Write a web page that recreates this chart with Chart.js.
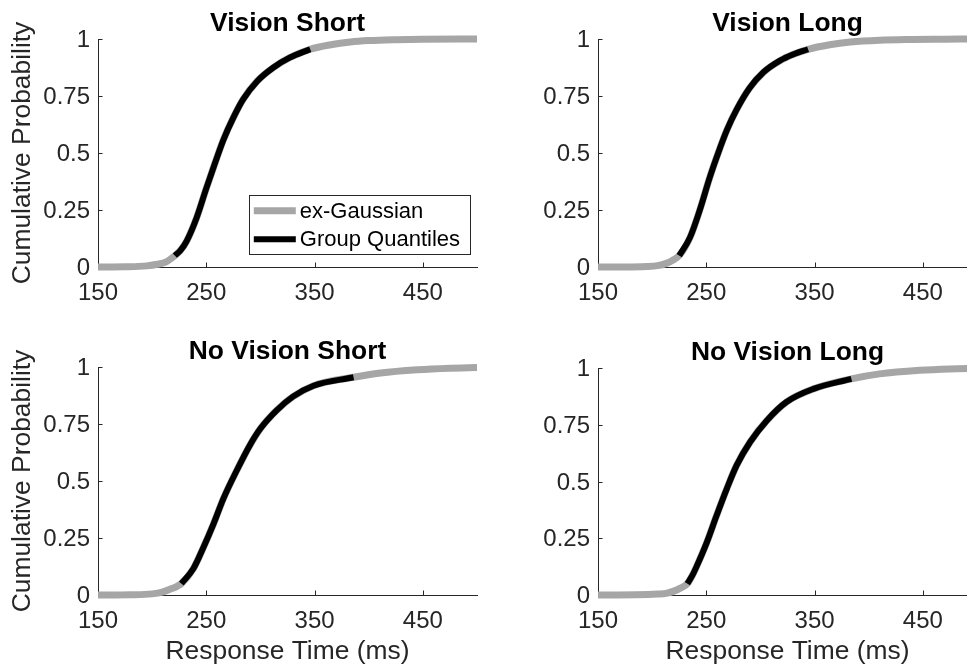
<!DOCTYPE html>
<html>
<head>
<meta charset="utf-8">
<script src="https://cdn.jsdelivr.net/npm/chart.js@4.4.1/dist/chart.umd.min.js"></script>
<style>
  html, body { margin: 0; padding: 0; background: #ffffff; overflow: hidden; width: 967px; height: 668px; }
  canvas { position: absolute; }
</style>
</head>
<body>
<canvas id="c0"></canvas>
<canvas id="c1"></canvas>
<canvas id="c2"></canvas>
<canvas id="c3"></canvas>
<script>
// ---- data -------------------------------------------------------------
const panelTitles = ['Vision Short', 'Vision Long', 'No Vision Short', 'No Vision Long'];
const seriesNames = ['ex-Gaussian', 'Group Quantiles'];
const xTickValues = [150, 250, 350, 450];
const yTickValues = [0, 0.25, 0.5, 0.75, 1];
const yTickLabels = ['0', '0.25', '0.5', '0.75', '1'];
const xAxisLabel = 'Response Time (ms)';
const yAxisLabel = 'Cumulative Probability';

// Vision Short
const vsFitRT = [150, 175, 195, 205, 213, 221, 226, 232, 241, 250, 258, 266, 275, 284, 297, 312, 327, 346, 365, 383, 400, 425, 450, 500];
const vsFitP  = [0, 0.001, 0.005, 0.012, 0.023, 0.05, 0.072, 0.115, 0.215, 0.345, 0.455, 0.56, 0.655, 0.735, 0.815, 0.875, 0.918, 0.955, 0.975, 0.987, 0.993, 0.997, 0.999, 1];
const vsQuantRT = [221, 226, 232, 241, 250, 258, 266, 275, 284, 297, 312, 327, 346];
const vsQuantP  = [0.05, 0.072, 0.115, 0.215, 0.345, 0.455, 0.56, 0.655, 0.735, 0.815, 0.875, 0.918, 0.955];

// Vision Long
const vlFitRT = [150, 175, 195, 205, 213, 219, 225, 235, 244, 253, 261, 269, 278, 290, 303, 318, 330, 344, 364, 383, 410, 440, 470, 500];
const vlFitP  = [0, 0, 0.002, 0.006, 0.016, 0.03, 0.05, 0.13, 0.25, 0.39, 0.5, 0.6, 0.69, 0.785, 0.855, 0.905, 0.932, 0.955, 0.975, 0.987, 0.995, 0.998, 0.999, 1];
const vlQuantRT = [225, 235, 244, 253, 261, 269, 278, 290, 303, 318, 330, 344];
const vlQuantP  = [0.05, 0.13, 0.25, 0.39, 0.5, 0.6, 0.69, 0.785, 0.855, 0.905, 0.932, 0.955];

// No Vision Short
const nvsFitRT = [150, 180, 200, 210, 218, 223, 227, 238, 247, 256.5, 266, 278, 290, 300, 315, 330, 349, 386, 411, 445, 475, 500];
const nvsFitP  = [0, 0.001, 0.005, 0.014, 0.028, 0.038, 0.05, 0.115, 0.205, 0.31, 0.425, 0.545, 0.655, 0.73, 0.81, 0.87, 0.918, 0.955, 0.974, 0.988, 0.995, 0.998];
const nvsQuantRT = [227, 238, 247, 256.5, 266, 278, 290, 300, 315, 330, 349, 386];
const nvsQuantP  = [0.05, 0.115, 0.205, 0.31, 0.425, 0.545, 0.655, 0.73, 0.81, 0.87, 0.918, 0.955];

// No Vision Long
const nvlFitRT = [150, 185, 205, 213, 220, 226, 232.5, 237, 241, 250.5, 259.5, 269, 278, 290.5, 306, 324, 349, 384, 410, 447, 475, 500];
const nvlFitP  = [0, 0.001, 0.004, 0.007, 0.017, 0.03, 0.05, 0.085, 0.125, 0.232, 0.35, 0.469, 0.571, 0.674, 0.769, 0.85, 0.908, 0.952, 0.974, 0.99, 0.996, 0.998];
const nvlQuantRT = [232.5, 237, 241, 250.5, 259.5, 269, 278, 290.5, 306, 324, 349, 384];
const nvlQuantP  = [0.05, 0.085, 0.125, 0.232, 0.35, 0.469, 0.571, 0.674, 0.769, 0.85, 0.908, 0.952];

// ---- styling ----------------------------------------------------------
const FONT = "'Liberation Sans', Arial, Helvetica, sans-serif";
const AXIS_COLOR = '#262626';
const FIT_COLOR = '#a6a6a6';
const QUANT_COLOR = '#000000';

Chart.defaults.font.family = FONT;
Chart.defaults.color = AXIS_COLOR;

// canvas placement and plot-box geometry for the 2x2 grid
const panels = [
  { id: 'c0', left: 0,   top: 0,   w: 490, h: 318, axisW: 98,  axisH: 51, padTop: 39, padRight: 13,
    fitRT: vsFitRT,  fitP: vsFitP,  qRT: vsQuantRT,  qP: vsQuantP,  yTitle: true,  xTitle: false, legend: true },
  { id: 'c1', left: 490, top: 0,   w: 510, h: 318, axisW: 108, axisH: 51, padTop: 39, padRight: 23,
    fitRT: vlFitRT,  fitP: vlFitP,  qRT: vlQuantRT,  qP: vlQuantP,  yTitle: false, xTitle: false, legend: false },
  { id: 'c2', left: 0,   top: 318, w: 490, h: 350, axisW: 98,  axisH: 73, padTop: 49, padRight: 13,
    fitRT: nvsFitRT, fitP: nvsFitP, qRT: nvsQuantRT, qP: nvsQuantP, yTitle: true,  xTitle: true,  legend: false },
  { id: 'c3', left: 490, top: 318, w: 510, h: 350, axisW: 108, axisH: 73, padTop: 50, padRight: 23,
    fitRT: nvlFitRT, fitP: nvlFitP, qRT: nvlQuantRT, qP: nvlQuantP, yTitle: false, xTitle: true,  legend: false }
];

// inward tick marks on both axes
const inwardTicks = {
  id: 'inwardTicks',
  beforeDatasetsDraw(chart) {
    const { ctx, chartArea, scales } = chart;
    const len = 4.5;
    ctx.save();
    ctx.strokeStyle = AXIS_COLOR;
    ctx.lineWidth = 1;
    ctx.beginPath();
    scales.x.ticks.forEach(t => {
      const px = Math.round(scales.x.getPixelForValue(t.value)) + 0.5;
      ctx.moveTo(px, chartArea.bottom);
      ctx.lineTo(px, chartArea.bottom - len);
    });
    scales.y.ticks.forEach(t => {
      const py = Math.round(scales.y.getPixelForValue(t.value)) + 0.5;
      ctx.moveTo(chartArea.left, py);
      ctx.lineTo(chartArea.left + len, py);
    });
    ctx.stroke();
    ctx.restore();
  }
};

// bold panel title centred over the plot box
const panelTitle = {
  id: 'panelTitle',
  afterDraw(chart, args, opts) {
    const { ctx, chartArea } = chart;
    ctx.save();
    ctx.font = 'bold 26.4px ' + FONT;
    ctx.fillStyle = '#000000';
    ctx.textAlign = 'center';
    ctx.textBaseline = 'alphabetic';
    ctx.fillText(opts.text, (chartArea.left + chartArea.right) / 2, chartArea.top - 8);
    ctx.restore();
  }
};

// boxed legend in the lower-right corner of the plot box
const boxLegend = {
  id: 'boxLegend',
  afterDraw(chart, args, opts) {
    if (!opts.show) return;
    const { ctx, chartArea } = chart;
    const sets = chart.data.datasets;
    ctx.save();
    ctx.font = '22px ' + FONT;
    const textW = Math.max(...sets.map(d => ctx.measureText(d.label).width));
    const bw = 51 + textW + 10, bh = 59;
    const bx = chartArea.right - 7 - bw, by = chartArea.bottom - 13 - bh;
    ctx.fillStyle = '#ffffff';
    ctx.fillRect(bx, by, bw, bh);
    ctx.strokeStyle = AXIS_COLOR;
    ctx.lineWidth = 1;
    ctx.strokeRect(Math.round(bx) + 0.5, Math.round(by) + 0.5, Math.round(bw), Math.round(bh));
    sets.forEach((d, i) => {
      const cy = by + 15.7 + i * 28.6;
      ctx.strokeStyle = d.borderColor;
      ctx.lineWidth = d.borderWidth;
      ctx.lineCap = 'butt';
      ctx.beginPath();
      ctx.moveTo(bx + 5, cy);
      ctx.lineTo(bx + 47, cy);
      ctx.stroke();
      ctx.fillStyle = '#000000';
      ctx.textAlign = 'left';
      ctx.textBaseline = 'middle';
      ctx.fillText(d.label, bx + 51, cy + 1);
    });
    ctx.restore();
  }
};

panels.forEach((p, k) => {
  const cv = document.getElementById(p.id);
  cv.width = p.w;
  cv.height = p.h;
  cv.style.left = p.left + 'px';
  cv.style.top = p.top + 'px';
  cv.style.width = p.w + 'px';
  cv.style.height = p.h + 'px';

  new Chart(cv, {
    type: 'line',
    data: {
      datasets: [
        {
          label: seriesNames[0],
          data: p.fitRT.map((x, i) => ({ x: x, y: p.fitP[i] })),
          borderColor: FIT_COLOR,
          borderWidth: 7,
          pointRadius: 0,
          cubicInterpolationMode: 'monotone',
          borderCapStyle: 'butt',
          borderJoinStyle: 'round',
          clip: false,
          order: 1
        },
        {
          label: seriesNames[1],
          data: p.qRT.map((x, i) => ({ x: x, y: p.qP[i] })),
          borderColor: QUANT_COLOR,
          borderWidth: 6,
          pointRadius: 0,
          cubicInterpolationMode: 'monotone',
          borderCapStyle: 'butt',
          borderJoinStyle: 'round',
          clip: false,
          order: 0
        }
      ]
    },
    options: {
      responsive: false,
      animation: false,
      devicePixelRatio: 1,
      events: [],
      layout: { padding: { top: p.padTop, right: p.padRight, left: 0, bottom: 0 } },
      plugins: {
        legend: { display: false },
        tooltip: { enabled: false },
        panelTitle: { text: panelTitles[k] },
        boxLegend: { show: p.legend }
      },
      scales: {
        x: {
          type: 'linear',
          min: 150,
          max: 500,
          afterBuildTicks: s => { s.ticks = xTickValues.map(v => ({ value: v })); },
          afterFit: s => { s.height = p.axisH; },
          grid: { display: false, drawTicks: false },
          border: { display: true, color: AXIS_COLOR, width: 1 },
          ticks: {
            padding: 12,
            maxRotation: 0,
            autoSkip: false,
            color: AXIS_COLOR,
            font: { size: 24 },
            callback: v => String(v)
          },
          title: {
            display: p.xTitle,
            text: xAxisLabel,
            color: AXIS_COLOR,
            font: { size: 26.4 },
            padding: { top: 0, bottom: 0 }
          }
        },
        y: {
          type: 'linear',
          min: 0,
          max: 1,
          afterBuildTicks: s => { s.ticks = yTickValues.map(v => ({ value: v })); },
          afterFit: s => { s.width = p.axisW; },
          grid: { display: false, drawTicks: false },
          border: { display: true, color: AXIS_COLOR, width: 1 },
          ticks: {
            padding: 8,
            labelOffset: 1.5,
            autoSkip: false,
            color: AXIS_COLOR,
            font: { size: 24 },
            callback: (v, i) => yTickLabels[i]
          },
          title: {
            display: p.yTitle,
            text: yAxisLabel,
            color: AXIS_COLOR,
            font: { size: 26.4 },
            padding: { top: 7, bottom: 0 }
          }
        }
      }
    },
    plugins: [inwardTicks, panelTitle, boxLegend]
  });
});
</script>
</body>
</html>
